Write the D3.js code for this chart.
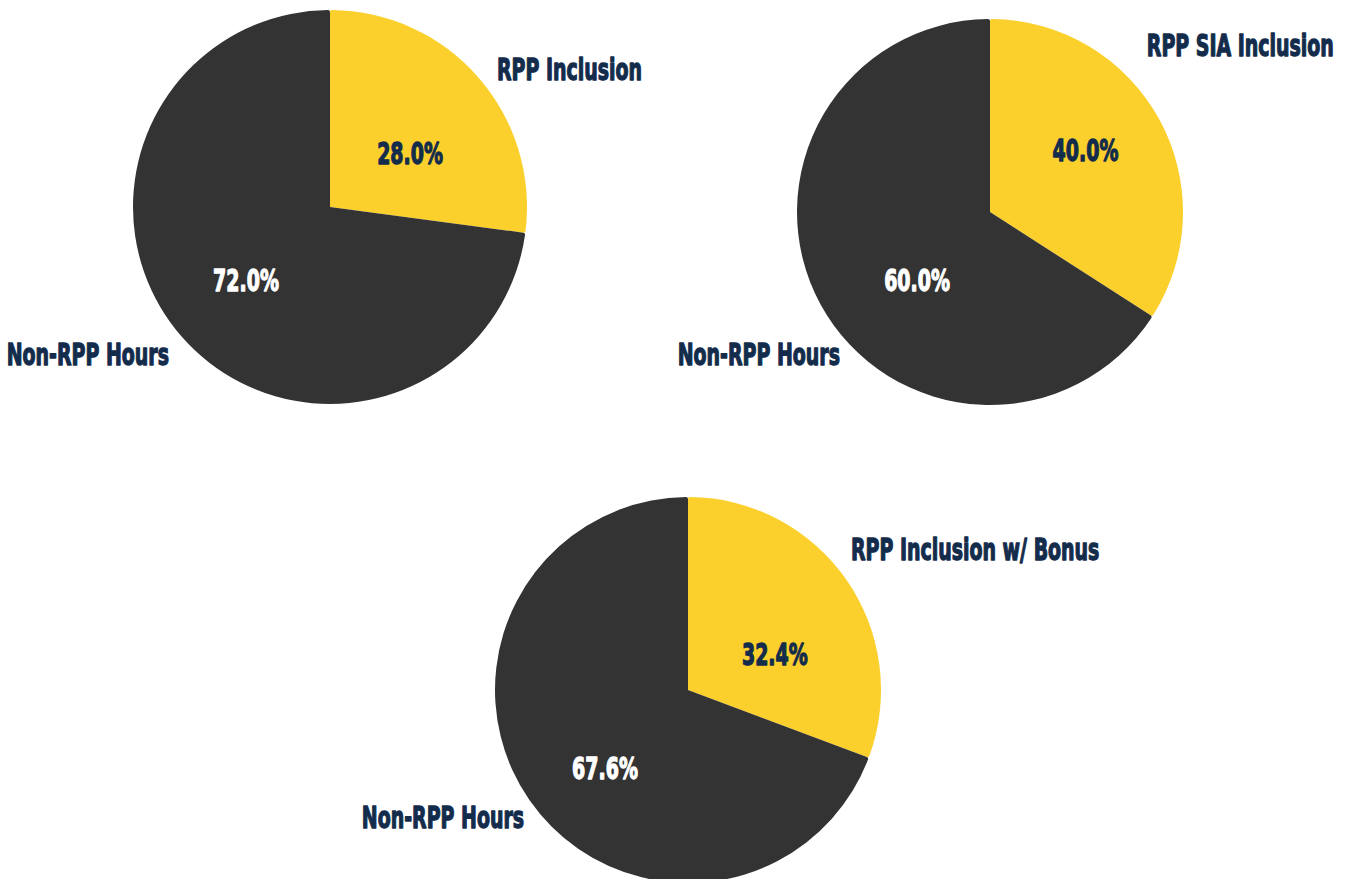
<!DOCTYPE html>
<html>
<head>
<meta charset="utf-8">
<script src="https://cdn.jsdelivr.net/npm/d3@7"></script>
<style>
    html, body { margin: 0; padding: 0; background: #fff; }
    svg { display: block; }
    text { font-family: "DejaVu Sans Condensed", "DejaVu Sans", sans-serif; font-weight: bold; }
</style>
</head>
<body>
<svg id="chart" width="1347" height="879"></svg>
<script>
// one entry per pie
const inclusionNames = ["RPP Inclusion", "RPP SIA Inclusion", "RPP Inclusion w/ Bonus"];
const otherName = "Non-RPP Hours";

// percentages printed on the slices
const inclusionPct = [28.0, 40.0, 32.4];
const otherPct = [72.0, 60.0, 67.6];

// share of the circle the slices really cover in the picture
const inclusionDrawn = [27.1, 34.1, 30.7];
const otherDrawn = [72.9, 65.9, 69.3];

const colors = { inclusion: "#fbd02c", other: "#333333" };
const navy = "#142c4b";

// where each pie sits, and where its labels go
// (label spots as [angle in degrees clockwise from 12 o'clock, distance in radii])
const layout = [
    { cx: 330, cy: 207, r: 197, pctIn: [56, 0.49], pctOut: [229, 0.565], nameIn: [50.4, 1.10], nameOut: [227.6, 1.107] },
    { cx: 990, cy: 212, r: 193, pctIn: [57, 0.59], pctOut: [227, 0.517], nameIn: [43.2, 1.187], nameOut: [226.6, 1.07] },
    { cx: 688, cy: 690, r: 193, pctIn: [67.5, 0.487], pctOut: [226.8, 0.59], nameIn: [49.1, 1.117], nameOut: [232.2, 1.075] }
];

const fontSize = 31;
const squeeze = 0.68; // fake a condensed heavy face

const svg = d3.select("#chart");

const pie = d3.pie().sort(null).value(d => d.share);

// point at a given angle (degrees, clockwise from 12 o'clock) and radius
function polar(p, spot) {
    const a = spot[0] * Math.PI / 180;
    const dist = spot[1] * p.r;
    return [p.cx + Math.sin(a) * dist, p.cy - Math.cos(a) * dist];
}

function addText(g, xy, str, anchor, fill) {
    g.append("text")
        .attr("transform", `translate(${xy[0]},${xy[1]}) scale(${squeeze},1)`)
        .attr("text-anchor", anchor)
        .attr("dominant-baseline", "central")
        .attr("fill", fill)
        .attr("stroke", fill)
        .attr("stroke-width", 1.3)
        .attr("stroke-linejoin", "round")
        .style("font-size", fontSize + "px")
        .text(str);
}

layout.forEach((p, i) => {
    const data = [
        { key: "inclusion", share: inclusionDrawn[i], pct: inclusionPct[i], name: inclusionNames[i] },
        { key: "other", share: otherDrawn[i], pct: otherPct[i], name: otherName }
    ];

    const arc = d3.arc().innerRadius(0).outerRadius(p.r).cornerRadius(2);

    const g = svg.append("g").attr("class", "pie");

    g.append("g")
        .attr("transform", `translate(${p.cx},${p.cy})`)
        .selectAll("path")
        .data(pie(data))
        .enter().append("path")
        .attr("d", arc)
        .attr("fill", d => colors[d.data.key]);

    // percentage labels inside the slices
    addText(g, polar(p, p.pctIn), d3.format(".1f")(data[0].pct) + "%", "middle", navy);
    addText(g, polar(p, p.pctOut), d3.format(".1f")(data[1].pct) + "%", "middle", "#ffffff");

    // names outside
    addText(g, polar(p, p.nameIn), data[0].name, "start", navy);
    addText(g, polar(p, p.nameOut), data[1].name, "end", navy);
});
</script>
</body>
</html>
